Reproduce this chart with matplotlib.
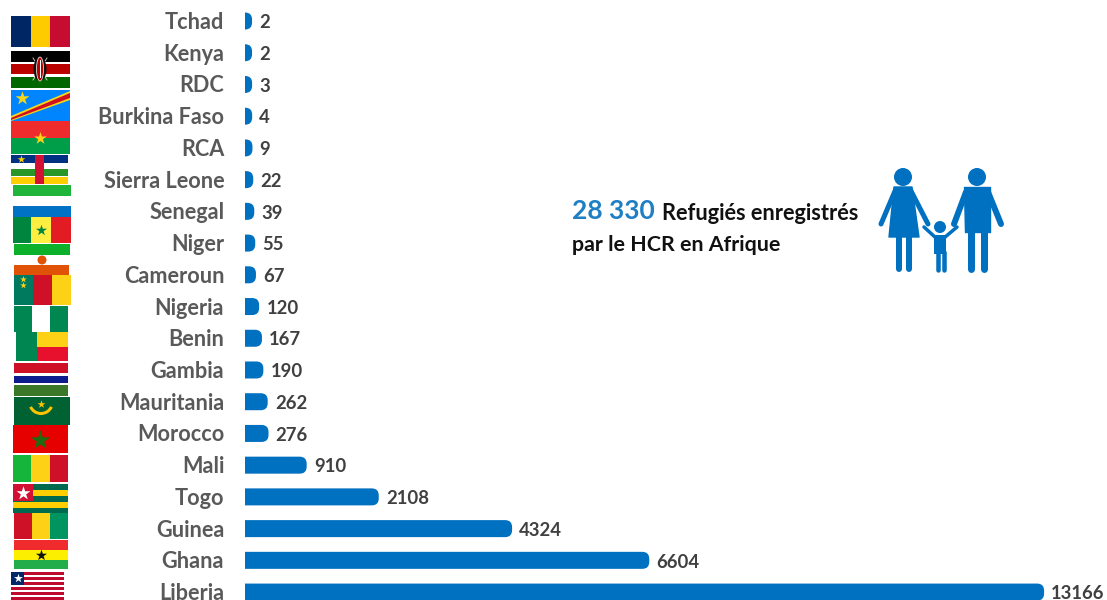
import matplotlib
matplotlib.use('Agg')
import matplotlib.pyplot as plt
from matplotlib.patches import Rectangle, Polygon, Circle, Wedge, Ellipse, PathPatch
from matplotlib.path import Path
from matplotlib.transforms import ScaledTranslation

plt.rcParams['font.family'] = ['Lato', 'DejaVu Sans']

countries = ['Tchad', 'Kenya', 'RDC', 'Burkina Faso', 'RCA', 'Sierra Leone', 'Senegal', 'Niger',
             'Cameroun', 'Nigeria', 'Benin', 'Gambia', 'Mauritania', 'Morocco', 'Mali', 'Togo',
             'Guinea', 'Ghana', 'Liberia']
refugees = [2, 2, 3, 4, 9, 22, 39, 55, 67, 120, 167, 190, 262, 276, 910, 2108, 4324, 6604, 13166]

total_label = '28 330'
total_text1 = 'Refugiés enregistrés'
total_text2 = 'par le HCR en Afrique'

BLUE = '#0070C0'
W, H = 1107, 600
fig = plt.figure(figsize=(W / 100, H / 100), dpi=100, facecolor='white')

# overlay in pixel coords for flags and the family icon
px = fig.add_axes([0, 0, 1, 1])
px.set_xlim(0, W)
px.set_ylim(H, 0)
px.axis('off')

# main chart, 16.62 data units per pixel, rows 31.72 px apart
ax = fig.add_axes([245 / W, 0, (W - 245) / W, 1])
ax.patch.set_alpha(0)
units = 16.62
ax.set_xlim(0, (W - 245) * units)
ax.set_ylim(18.25, -0.662)
for s in ax.spines.values():
    s.set_visible(False)
ax.xaxis.set_visible(False)
ax.set_yticks(range(len(countries)))
ax.set_yticklabels(countries, fontsize=15.6, fontweight='bold', color='#595959')
ax.tick_params(axis='y', length=0, pad=15)
# nudge the labels up a little
up = ScaledTranslation(0, 0.5 / 100, fig.dpi_scale_trans)
for lab in ax.get_yticklabels():
    lab.set_transform(lab.get_transform() + up)

rowh = 31.72
pad = 115  # the rounded end adds a bit of length to each bar


def round_bar(i, value):
    x1 = value + pad
    rx, ry = 7 * units, 7 / rowh
    top, bot = i - 8.5 / rowh, i + 8.5 / rowh
    verts = [(0, top), (x1 - rx, top), (x1, top), (x1, top + ry), (x1, bot - ry), (x1, bot),
             (x1 - rx, bot), (0, bot), (0, top)]
    codes = [Path.MOVETO, Path.LINETO, Path.CURVE3, Path.CURVE3, Path.LINETO, Path.CURVE3,
             Path.CURVE3, Path.LINETO, Path.CLOSEPOLY]
    return PathPatch(Path(verts, codes), fc=BLUE, ec='none')


for i, v in enumerate(refugees):
    ax.add_patch(round_bar(i, v))
    ax.annotate(str(v), (v + pad, i), xytext=(5.2, -1.2), textcoords='offset points', va='center',
                ha='left', fontsize=13.3, fontweight='bold', color='#404040')


def rect(x0, y0, x1, y1, c):
    px.add_patch(Rectangle((x0, y0), x1 - x0, y1 - y0, fc=c, ec='none'))


def star(x, y, c, s=70):
    px.scatter([x], [y], marker='*', s=s, c=c, linewidths=0, zorder=3)


def vstripes(x0, y0, y1, xs, cols):
    for a, b, c in zip([x0] + xs[:-1], xs, cols):
        rect(a, y0, b, y1, c)


# Tchad
vstripes(11, 16, 47, [31, 50, 70], ['#002664', '#FECB00', '#C60C30'])
# Kenya
rect(11, 51, 70, 62, '#000000')
rect(11, 64, 70, 74, '#BB0000')
rect(11, 77, 70, 88, '#006600')
px.plot([33, 47], [58, 80], color='#DDDDDD', lw=0.6, zorder=3)
px.plot([47, 33], [58, 80], color='#DDDDDD', lw=0.6, zorder=3)
px.add_patch(Ellipse((40, 69), 13, 24, fc='#111111', ec='none', zorder=3))
px.add_patch(Ellipse((40, 69), 7, 24, fc='#BB0000', ec='white', lw=0.5, zorder=3))
rect(39.5, 60, 40.5, 78, 'white')
px.patches[-1].set_zorder(4)
# RDC
rect(11, 90, 70, 121, '#0085FF')
px.add_patch(Polygon([(11, 116), (70, 91), (70, 100), (11, 121)], fc='#F7D618', ec='none'))
px.add_patch(Polygon([(11, 118), (70, 93), (70, 98), (11, 120)], fc='#CE1021', ec='none'))
star(22, 98, '#F7D618', 110)
# Burkina Faso
rect(11, 121, 70, 138, '#EF2B2D')
rect(11, 138, 70, 154, '#009E49')
star(40, 138, '#FCD116', 90)
# RCA
rect(11, 155, 68, 163, '#003082')
rect(11, 169, 68, 176, '#289728')
rect(11, 177, 68, 184, '#FFCE00')
rect(35, 155, 44, 184, '#D21034')
star(21, 159, '#FFCE00', 35)
# Sierra Leone
rect(13, 185, 71, 196, '#1EB53A')
rect(13, 206, 71, 217, '#0072C6')
# Senegal
vstripes(13, 217, 243, [31, 51, 71], ['#00853F', '#FDEF42', '#E31B23'])
star(41, 230, '#00853F', 70)
# Niger
rect(14, 244, 70, 255, '#0DB02B')
px.add_patch(Circle((42, 260), 4.5, fc='#E05206', ec='none'))
rect(14, 265, 69, 275, '#E05206')
# Cameroun
vstripes(14, 275, 305, [33, 52, 71], ['#007A5E', '#CE1126', '#FCD116'])
star(23, 279, '#FCD116', 25)
star(23, 285, '#FCD116', 25)
# Nigeria
vstripes(14, 306, 332, [32, 50, 68], ['#008751', '#FFFFFF', '#008751'])
# Benin
rect(16, 332, 37, 361, '#008751')
rect(37, 332, 68, 347, '#FCD116')
rect(37, 347, 68, 361, '#E8112D')
# Gambia
rect(14, 363, 68, 373, '#CE1126')
rect(14, 376, 68, 383, '#0C1C8C')
rect(14, 385, 68, 396, '#3A7728')
# Mauritania
rect(14, 397, 70, 425, '#006233')
px.add_patch(Wedge((41, 402), 13, 25, 155, width=3, fc='#FFC400', ec='none'))
star(41, 404, '#FFC400', 35)
# Morocco
rect(13, 425, 68, 453, '#E60000')
star(40, 440, '#1E6B10', 220)
# Mali
vstripes(13, 455, 482, [31, 50, 68], ['#14B53A', '#FCD116', '#CE1126'])
# Togo
for y0, y1, c in [(484, 490, '#006A4E'), (490, 496, '#FFCE00'), (496, 502, '#006A4E'),
                  (502, 508, '#FFCE00'), (508, 513, '#006A4E')]:
    rect(13, y0, 68, y1, c)
rect(13, 484, 33, 501, '#D21034')
star(23, 493, 'white', 110)
# Guinea
vstripes(14, 513, 539, [32, 50, 68], ['#CE1126', '#FCD116', '#009460'])
# Ghana
rect(14, 540, 68, 550, '#EF2B2D')
rect(14, 550, 68, 560, '#FCF000')
rect(14, 560, 68, 569, '#23AD4A')
star(41, 555, '#111111', 70)
# Liberia
for k in range(6):
    rect(11, 572 + k * 5, 64, 574.5 + k * 5, '#BF0A30')
rect(11, 572, 24, 585, '#002868')
star(17.5, 578, 'white', 45)


def limb(xs, ys, lw):
    px.plot(xs, ys, color=BLUE, lw=lw * 0.72, solid_capstyle='round', solid_joinstyle='round')


# woman
px.add_patch(Circle((903, 177), 9, fc=BLUE, ec='none'))
px.add_patch(Polygon([(894, 187), (912, 187), (919, 237), (889, 237)], fc=BLUE, ec=BLUE, lw=1, joinstyle='round'))
limb([895, 881], [191, 224], 5)
limb([911, 928], [191, 224], 5)
limb([899, 899], [237, 269], 6)
limb([909, 909], [237, 269], 6)
# man
px.add_patch(Circle((977, 177), 9, fc=BLUE, ec='none'))
px.add_patch(Polygon([(964, 187), (990, 187), (990, 232), (965, 232)], fc=BLUE, ec=BLUE, lw=1, joinstyle='round'))
limb([966, 954], [192, 224], 6)
limb([988, 1001], [192, 224], 6)
limb([971, 971], [232, 269], 7)
limb([984, 984], [232, 269], 7)
# child
px.add_patch(Circle((940, 227), 6, fc=BLUE, ec='none'))
px.add_patch(Polygon([(934, 235), (946, 235), (946, 254), (934, 254)], fc=BLUE, ec='none'))
limb([936, 924], [238, 227], 3.5)
limb([944, 957], [238, 227], 3.5)
limb([937.5, 937.5], [252, 270], 4.5)
limb([943.5, 943.5], [252, 270], 4.5)

# total annotation
px.text(572, 211, total_label, fontsize=19, fontweight='bold', color='#1F7FC4', va='center', ha='left')
px.text(662, 213, total_text1, fontsize=15.65, fontweight='bold', color='#111111', va='center', ha='left')
px.text(572, 245, total_text2, fontsize=15.4, fontweight='bold', color='#111111', va='center', ha='left')

fig.savefig('out.png', dpi=100)
